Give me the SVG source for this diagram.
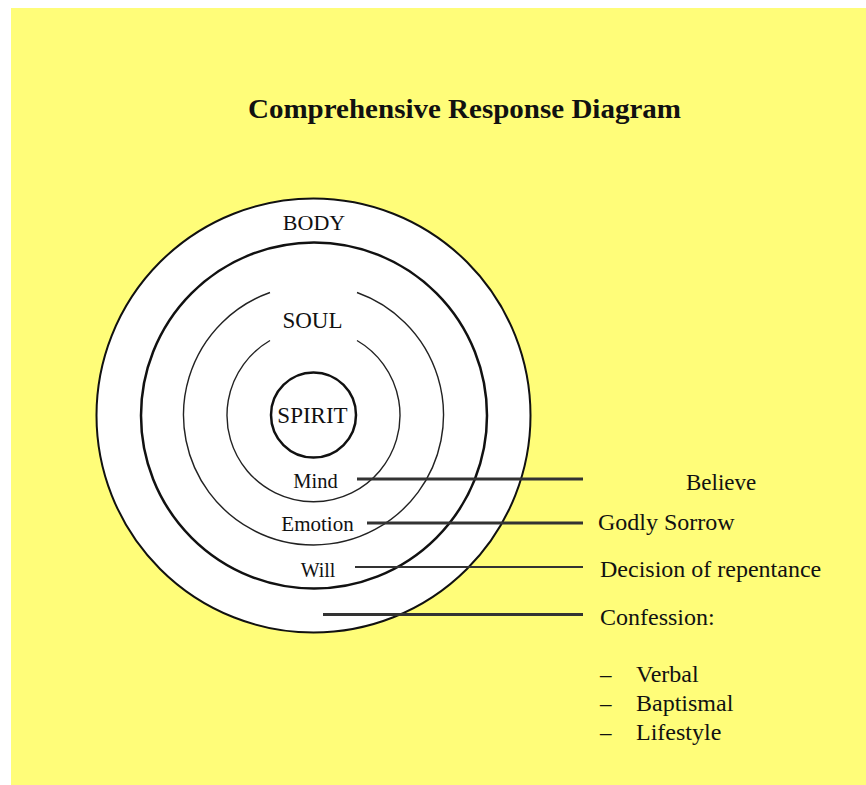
<svg xmlns="http://www.w3.org/2000/svg" width="866" height="785" viewBox="0 0 866 785">
<style>
.t{font-family:"Liberation Serif","Times New Roman",serif;fill:#111}
.ring{fill:#fff;stroke:#111}
.arc{fill:none;stroke:#222;stroke-width:1.4}
.conn{stroke:#333;stroke-linecap:butt}
</style>
<rect x="0" y="0" width="866" height="785" fill="#fff"/>
<rect x="11" y="8" width="855" height="777" fill="#FFFD79"/>
<text class="t" x="464.5" y="118" font-size="28" font-weight="bold" text-anchor="middle" textLength="433" lengthAdjust="spacingAndGlyphs">Comprehensive Response Diagram</text>

<g id="body">
<circle class="ring" cx="313.5" cy="415.5" r="217" stroke-width="2"/>
<text class="t" x="314" y="230" font-size="22" text-anchor="middle">BODY</text>
</g>
<g id="soul">
<circle class="ring" cx="314" cy="415.5" r="173" stroke-width="2.5"/>
<path class="arc" d="M270 292.5 A130 130 0 1 0 357 292.5"/>
<path class="arc" d="M270 340.5 A86.5 86.5 0 1 0 357 340.5"/>
<text class="t" x="312.5" y="328" font-size="23" text-anchor="middle">SOUL</text>
</g>
<g id="spirit">
<circle class="ring" cx="313.5" cy="415" r="42.5" stroke-width="2.5"/>
<text class="t" x="312.5" y="423" font-size="23" text-anchor="middle">SPIRIT</text>
</g>
<g id="mind"><text class="t" x="315.5" y="488" font-size="20.5" text-anchor="middle">Mind</text></g>
<g id="emotion"><text class="t" x="317.5" y="531" font-size="21" text-anchor="middle">Emotion</text></g>
<g id="will"><text class="t" x="318" y="577" font-size="20" text-anchor="middle">Will</text></g>

<g id="connectors">
<line class="conn" x1="357" y1="479" x2="583" y2="479" stroke-width="3"/>
<line class="conn" x1="367" y1="523" x2="583" y2="523" stroke-width="3"/>
<line class="conn" x1="355" y1="567" x2="583" y2="567" stroke-width="2"/>
<line class="conn" x1="323" y1="614.5" x2="583" y2="614.5" stroke-width="3"/>
</g>

<g id="believe"><text class="t" x="686" y="490" font-size="23">Believe</text></g>
<g id="godly-sorrow"><text class="t" x="598" y="530" font-size="24">Godly Sorrow</text></g>
<g id="decision"><text class="t" x="600" y="577" font-size="24">Decision of repentance</text></g>
<g id="confession">
<text class="t" x="600" y="625" font-size="24">Confession:</text>
<text class="t" x="600" y="682" font-size="23">–</text>
<text class="t" x="636" y="682" font-size="24">Verbal</text>
<text class="t" x="600" y="711" font-size="23">–</text>
<text class="t" x="636" y="711" font-size="24">Baptismal</text>
<text class="t" x="600" y="740" font-size="23">–</text>
<text class="t" x="636" y="740" font-size="24">Lifestyle</text>
</g>
</svg>
